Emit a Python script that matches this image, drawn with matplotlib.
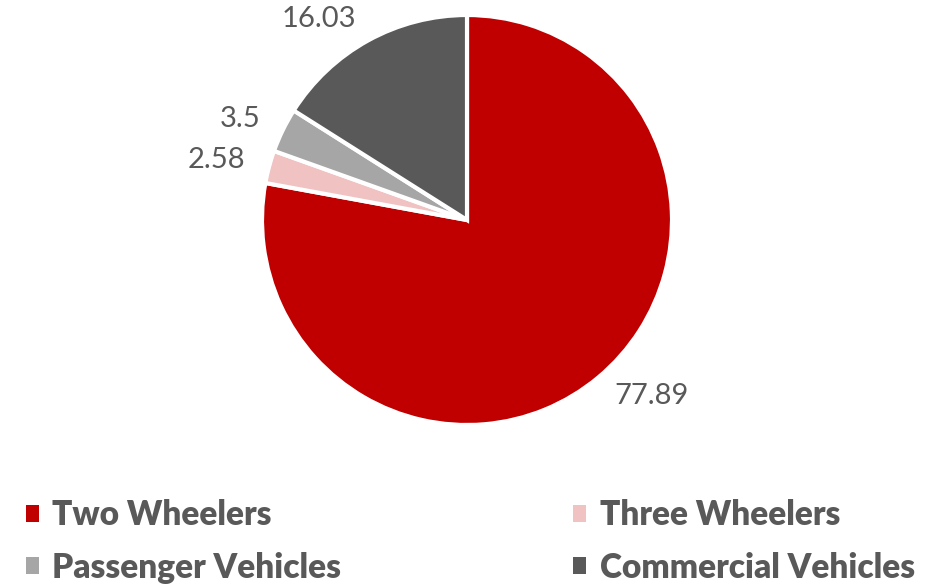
import matplotlib.pyplot as plt

categorias = ["Two Wheelers", "Three Wheelers", "Passenger Vehicles", "Commercial Vehicles"]
valores = [77.89, 2.58, 3.5, 16.03]
colores = ["#C00000", "#F0C2C2", "#A6A6A6", "#595959"]
gris = "#595959"

fig = plt.figure(figsize=(9.49, 5.86), dpi=100)
ax = fig.add_axes([262 / 949, 161 / 586, 410 / 949, 410 / 586])

wedges, textos = ax.pie(valores, labels=[str(v) for v in valores], colors=colores,
                        startangle=90, counterclock=False, labeldistance=1.12,
                        wedgeprops=dict(edgecolor="white", linewidth=3),
                        textprops=dict(color=gris, fontsize=21, family="Lato"))
ax.set_xlim(-1, 1)
ax.set_ylim(-1, 1)
ax.set_aspect("equal")

# leyenda abajo en dos columnas (se llena por columnas)
orden = [0, 2, 1, 3]
ley = fig.legend([wedges[i] for i in orden], [categorias[i] for i in orden],
                 loc="lower left", bbox_to_anchor=(0.013, -0.019), borderaxespad=0,
                 ncol=2, frameon=False, handlelength=0.4, handleheight=0.4,
                 handletextpad=0.4, columnspacing=6.95, labelspacing=0.62,
                 prop=dict(family="Lato", weight="heavy", size=24))
for t in ley.get_texts():
    t.set_color(gris)
for h in ley.legend_handles:
    h.set_linewidth(0)

fig.savefig("out.png", dpi=100)
